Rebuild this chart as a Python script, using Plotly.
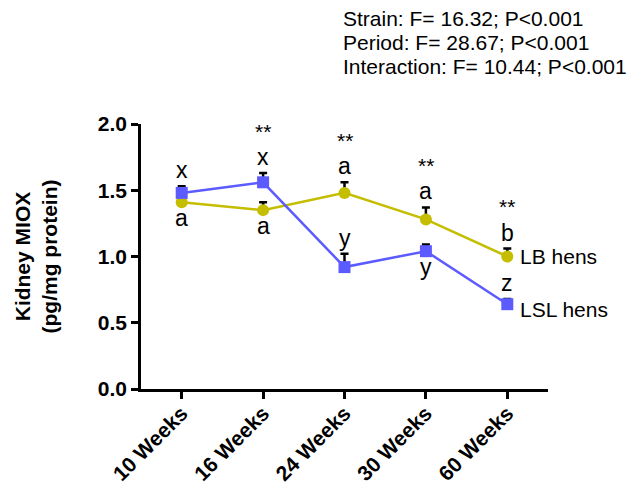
import plotly.graph_objects as go

weeks = ["10 Weeks", "16 Weeks", "24 Weeks", "30 Weeks", "60 Weeks"]
lb_mean = [1.41, 1.35, 1.48, 1.28, 1.00]
lb_err = [0.05, 0.06, 0.08, 0.09, 0.06]
lsl_mean = [1.48, 1.56, 0.92, 1.04, 0.64]
lsl_err = [0.05, 0.07, 0.10, 0.05, 0.04]

lb_letters = ["a", "a", "a", "a", "b"]
lb_letter_pos = ["below", "below", "above", "above", "above"]
lsl_letters = ["x", "x", "y", "y", "z"]
lsl_letter_pos = ["above", "above", "above", "below", "above"]
sig = ["", "**", "**", "**", "**"]

stats_lines = ["Strain: F= 16.32; P<0.001", "Period: F= 28.67; P<0.001", "Interaction: F= 10.44; P<0.001"]

LB_COLOR = "#c4bd00"
LSL_COLOR = "#5b5bff"
FONT = "Liberation Sans, Arial, sans-serif"

fig = go.Figure()
fig.add_trace(go.Scatter(
    x=weeks, y=lb_mean, mode="lines+markers", name="LB hens",
    line=dict(color=LB_COLOR, width=2.5),
    marker=dict(symbol="circle", size=12, color=LB_COLOR),
    error_y=dict(type="data", symmetric=False, array=lb_err, arrayminus=[0]*5,
                 color="black", thickness=2.5, width=4),
))
fig.add_trace(go.Scatter(
    x=weeks, y=lsl_mean, mode="lines+markers", name="LSL hens",
    line=dict(color=LSL_COLOR, width=2.5),
    marker=dict(symbol="square", size=12, color=LSL_COLOR),
    error_y=dict(type="data", symmetric=False, array=lsl_err, arrayminus=[0]*5,
                 color="black", thickness=2.5, width=4),
))

annots = []
letter_font = dict(family=FONT, size=23, color="black")
for i, w in enumerate(weeks):
    tops = []
    for letters, pos, mean, err in [(lb_letters, lb_letter_pos, lb_mean, lb_err),
                                    (lsl_letters, lsl_letter_pos, lsl_mean, lsl_err)]:
        if pos[i] == "above":
            annots.append(dict(x=w, y=mean[i] + err[i], text=letters[i], showarrow=False,
                               yanchor="middle", yshift=16, font=letter_font))
            tops.append(mean[i] + err[i])
        else:
            annots.append(dict(x=w, y=mean[i], text=letters[i], showarrow=False,
                               yanchor="middle", yshift=-16, font=letter_font))
    if sig[i]:
        annots.append(dict(x=w, y=max(tops), text=sig[i], showarrow=False,
                           yanchor="middle", yshift=42, font=dict(family=FONT, size=21, color="black")))

annots.append(dict(x=weeks[-1], y=lb_mean[-1], text="LB hens", showarrow=False, xanchor="left",
                   yanchor="middle", xshift=11, font=dict(family=FONT, size=21, color="black")))
annots.append(dict(x=weeks[-1], y=lsl_mean[-1], text="LSL hens", showarrow=False, xanchor="left",
                   yanchor="middle", xshift=11, yshift=-5, font=dict(family=FONT, size=21, color="black")))

for k, line in enumerate(stats_lines):
    annots.append(dict(xref="paper", yref="paper", x=(341 - 141) / 407, y=1 + (124 - (18 + 24 * k)) / 265,
                       text=line, showarrow=False, xanchor="left", yanchor="middle",
                       font=dict(family=FONT, size=21, color="black")))

annots.append(dict(xref="paper", yref="paper", x=(35 - 141) / 407, y=0.5,
                   text="<b>Kidney MIOX<br>(pg/mg protein)</b>", textangle=-90, showarrow=False,
                   xanchor="center", yanchor="middle", font=dict(family=FONT, size=21, color="black")))

fig.update_layout(
    width=644, height=485,
    margin=dict(l=141, r=96, t=124, b=96, autoexpand=False),
    plot_bgcolor="white", paper_bgcolor="white",
    showlegend=False,
    annotations=annots,
    font=dict(family=FONT, color="black"),
)
fig.update_xaxes(
    range=[-0.5, 4.5], showline=True, linecolor="black", linewidth=2.5,
    ticks="outside", ticklen=7, tickwidth=2.5, tickcolor="black",
    tickangle=-45, tickfont=dict(family=FONT, size=21, color="black"),
    ticklabelstandoff=-6,
    showgrid=False, zeroline=False, automargin=False,
    tickvals=weeks, ticktext=["<b>%s</b>" % w for w in weeks],
)
fig.update_yaxes(
    range=[0, 2.0], tickvals=[0, 0.5, 1.0, 1.5, 2.0],
    ticktext=["<b>0.0</b>", "<b>0.5</b>", "<b>1.0</b>", "<b>1.5</b>", "<b>2.0</b>"],
    showline=True, linecolor="black", linewidth=2.5,
    ticks="outside", ticklen=7, tickwidth=2.5, tickcolor="black",
    tickfont=dict(family=FONT, size=21, color="black"),
    showgrid=False, zeroline=False, automargin=False,
)

fig.write_html("out.html")
